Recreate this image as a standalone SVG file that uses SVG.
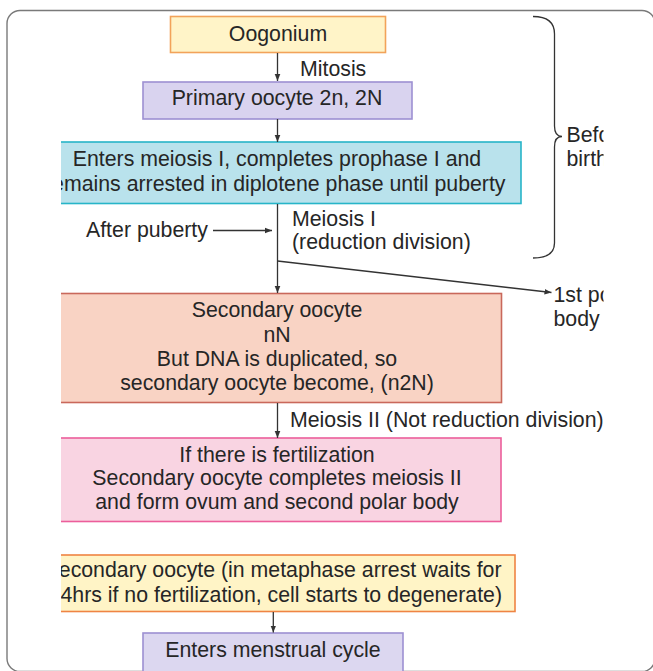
<svg xmlns="http://www.w3.org/2000/svg" width="653" height="671" viewBox="0 0 653 671">
  <defs>
    <style>
      text { font-family: "Liberation Sans", Arial, Helvetica, sans-serif; font-size: 21.3px; fill: #262626; }
      .c { text-anchor: middle; }
      .e { text-anchor: end; }
      .box { stroke-width: 1.6; }
      .link { stroke: #333; stroke-width: 1.3; fill: none; }
    </style>
    <marker id="head" viewBox="0 0 10 10" refX="10" refY="5" markerWidth="7" markerHeight="7" markerUnits="userSpaceOnUse" orient="auto">
      <path d="M0,1 L10,5 L0,9 Z" fill="#333"/>
    </marker>
    <clipPath id="panel">
      <rect x="61" y="0" width="542.5" height="671"/>
    </clipPath>
  </defs>

  <rect width="653" height="671" fill="#ffffff"/>
  <!-- card frame -->
  <rect x="7" y="10.5" width="648" height="661" rx="13" fill="none" stroke="#7a7a7a" stroke-width="1.4"/>

  <g clip-path="url(#panel)">
    <g id="oogonium">
      <rect class="box" x="170.5" y="16.5" width="215" height="36" fill="#FFF4C8" stroke="#F2A35A"/>
      <text class="c" x="278" y="41">Oogonium</text>
    </g>
    <g id="primary-oocyte">
      <rect class="box" x="143" y="82" width="269" height="37" fill="#D9D3EF" stroke="#9D90D2"/>
      <text class="c" x="277" y="105">Primary oocyte 2n, 2N</text>
    </g>
    <g id="meiosis-one">
      <rect class="box" x="40" y="142" width="481" height="61.5" fill="#B9E2EC" stroke="#27B5C8"/>
      <text class="c" x="277" y="165.5">Enters meiosis I, completes prophase I and</text>
      <text class="e" x="505.5" y="190.5">emains arrested in diplotene phase until puberty</text>
    </g>
    <g id="secondary-oocyte">
      <rect class="box" x="40" y="293.5" width="461.5" height="109" fill="#F9D3C4" stroke="#C9685B"/>
      <text class="c" x="277" y="316.5">Secondary oocyte</text>
      <text class="c" x="277" y="341.5">nN</text>
      <text class="c" x="277" y="366">But DNA is duplicated, so</text>
      <text class="c" x="277" y="390">secondary oocyte become, (n2N)</text>
    </g>
    <g id="fertilization">
      <rect class="box" x="40" y="438" width="461" height="83.5" fill="#F9D4E2" stroke="#EC5E9B"/>
      <text class="c" x="277" y="461.5">If there is fertilization</text>
      <text class="c" x="277" y="485">Secondary oocyte completes meiosis II</text>
      <text class="c" x="277" y="508.5">and form ovum and second polar body</text>
    </g>
    <g id="metaphase-arrest">
      <rect class="box" x="40" y="555" width="475" height="56.5" fill="#FFF4C6" stroke="#EF8443"/>
      <text class="e" x="501.5" y="576.5">econdary oocyte (in metaphase arrest waits for</text>
      <text class="e" x="502" y="601.5">4hrs if no fertilization, cell starts to degenerate)</text>
    </g>
    <g id="menstrual-cycle">
      <rect class="box" x="143" y="633" width="260" height="45" fill="#DCD7F0" stroke="#9D90D2"/>
      <text class="c" x="273" y="656.5">Enters menstrual cycle</text>
    </g>

    <g id="labels">
      <text x="300" y="76">Mitosis</text>
      <text x="86" y="237">After puberty</text>
      <text x="292" y="226">Meiosis I</text>
      <text x="292" y="248.5">(reduction division)</text>
      <text x="290" y="427">Meiosis II (Not reduction division)</text>
      <text x="566.5" y="142">Befo</text>
      <text x="566.5" y="166">birth</text>
      <text x="553.5" y="302">1st po</text>
      <text x="553.5" y="326">body</text>
    </g>

    <g id="connectors">
      <line class="link" x1="277.5" y1="53" x2="277.5" y2="81" marker-end="url(#head)"/>
      <line class="link" x1="277.5" y1="119" x2="277.5" y2="142" marker-end="url(#head)"/>
      <line class="link" x1="277.5" y1="204" x2="277.5" y2="293" marker-end="url(#head)"/>
      <line class="link" x1="213" y1="230.5" x2="272" y2="230.5" marker-end="url(#head)"/>
      <line class="link" x1="277.5" y1="261" x2="551.5" y2="292.5" marker-end="url(#head)"/>
      <line class="link" x1="277.5" y1="403" x2="277.5" y2="438" marker-end="url(#head)"/>
      <line class="link" x1="273.3" y1="612" x2="273.3" y2="632.5" marker-end="url(#head)"/>
      <!-- brace spanning the stages before birth -->
      <path class="link" stroke="#555" stroke-width="1.5" d="M533,16.5 Q554.5,16.5 554.5,34 L554.5,126 Q554.5,136.5 562,136.5 Q554.5,136.5 554.5,147 L554.5,243 Q554.5,258 533,258"/>
    </g>
  </g>
</svg>
